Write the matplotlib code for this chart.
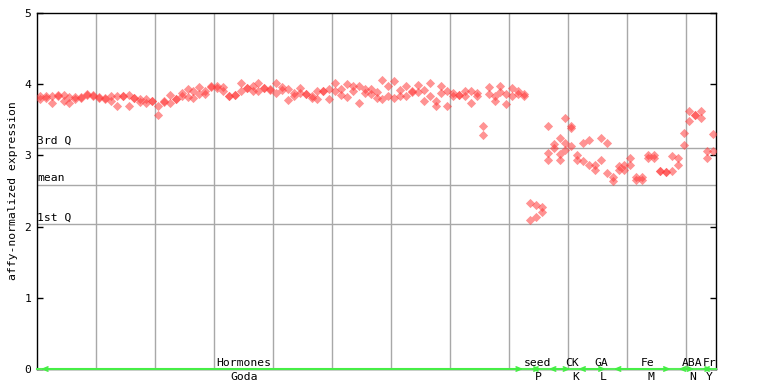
import matplotlib
matplotlib.use("Agg")
import matplotlib.pyplot as plt
import numpy as np

# ---------------- data ----------------
goda_vals = [
    [3.83, 3.79], [3.83, 3.80], [3.84, 3.74], [3.85, 3.84], [3.85, 3.76],
    [3.82, 3.74], [3.82, 3.79], [3.82, 3.81], [3.86, 3.85], [3.85, 3.84],
    [3.82, 3.81], [3.81, 3.79], [3.83, 3.77], [3.83, 3.70], [3.84, 3.83],
    [3.85, 3.69], [3.81, 3.81], [3.79, 3.75], [3.79, 3.74], [3.77, 3.77],
    [3.69, 3.57], [3.76, 3.75], [3.85, 3.74], [3.79, 3.79], [3.87, 3.84],
    [3.93, 3.82], [3.91, 3.81], [3.96, 3.86], [3.90, 3.86], [3.98, 3.96],
    [3.98, 3.94], [3.96, 3.91], [3.83, 3.83], [3.85, 3.85], [4.01, 3.91],
    [3.94, 3.94], [3.97, 3.91], [4.01, 3.91], [3.94, 3.94], [3.93, 3.92],
    [4.01, 3.88], [3.96, 3.92], [3.93, 3.78], [3.87, 3.83], [3.94, 3.87],
    [3.86, 3.86], [3.84, 3.80], [3.90, 3.79], [3.90, 3.90], [3.93, 3.79],
    [4.01, 3.90], [3.93, 3.85], [4.00, 3.82], [3.97, 3.90], [3.97, 3.74],
    [3.93, 3.87], [3.93, 3.86], [3.89, 3.80], [4.06, 3.79], [3.98, 3.84],
    [4.04, 3.80], [3.92, 3.83], [3.97, 3.84], [3.90, 3.89], [3.99, 3.89],
    [3.92, 3.77], [4.01, 3.83], [3.77, 3.70], [3.97, 3.87], [3.91, 3.69],
    [3.87, 3.84], [3.85, 3.85], [3.90, 3.83], [3.90, 3.74], [3.87, 3.84],
    [3.41, 3.28], [3.96, 3.86], [3.84, 3.77], [3.97, 3.89], [3.86, 3.72],
    [3.95, 3.84], [3.90, 3.86], [3.86, 3.83],
]
seed_vals = [[2.33, 2.09], [2.30, 2.13], [2.28, 2.21]]
ck_vals = [[3.41, 3.03, 2.94], [3.16, 3.11], [3.24, 3.02, 2.94],
           [3.52, 3.18, 3.08], [3.41, 3.38, 3.13]]
ga_vals = [[3.01, 2.94], [3.17, 2.92], [3.21, 2.87], [2.87, 2.80],
           [3.24, 2.93], [3.18, 2.75]]
fe_vals = [[2.69, 2.64], [2.85, 2.79], [2.86, 2.79], [2.97, 2.86],
           [2.69, 2.66], [2.69, 2.66], [3.00, 2.97], [3.01, 2.96],
           [2.78, 2.78], [2.76, 2.76], [2.99, 2.78]]
aba_vals = [[2.96, 2.87], [3.32, 3.14], [3.62, 3.48], [3.57, 3.57]]
fr_vals = [[3.62, 3.53], [3.06, 2.96], [3.30, 3.06]]

category_labels = ["Hormones", "seed", "CK", "GA", "Fe", "ABA", "Fr"]
set_labels = ["Goda", "P", "K", "L", "M", "N", "Y"]

q3_value = 3.10
mean_value = 2.58
q1_value = 2.03
# ---------------------------------------

groups = [goda_vals, seed_vals, ck_vals, ga_vals, fe_vals, aba_vals, fr_vals]
columns = [c for g in groups for c in g]
n_cols = len(columns)

xs, ys = [], []
for i, col in enumerate(columns):
    for v in col:
        xs.append(i + 0.5)
        ys.append(v)

MONO = "DejaVu Sans Mono"
FS = 8.2
GRID = "#a8a8a8"

fig = plt.figure(figsize=(7.68, 3.84), dpi=100)
ax = fig.add_axes([37 / 768, 15 / 384, (716 - 37) / 768, (369 - 13) / 384])
ax.set_xlim(0, n_cols)
ax.set_ylim(0, 5)

# vertical grid
for gx in range(10, n_cols, 10):
    ax.axvline(gx, color=GRID, lw=1.0, zorder=1)
# quantile lines
for val, lab in [(q3_value, "3rd Q"), (mean_value, "mean"), (q1_value, "1st Q")]:
    ax.axhline(val, color=GRID, lw=1.0, zorder=1)
    ax.text(0.05, val + 0.03, lab, family=MONO, fontsize=FS, va="bottom",
            ha="left", zorder=3)

ax.scatter(xs, ys, marker="D", s=22, color="#ff3a3a", alpha=0.55,
           linewidths=0, zorder=4)

# group spans (in column units) derived from group sizes
starts = np.cumsum([0] + [len(g) for g in groups[:-1]])
ends = starts + np.array([len(g) for g in groups])
ax.plot([0, n_cols], [0, 0], color="#55ee55", lw=1.5, zorder=5, clip_on=False)
for s, e in zip(starts, ends):
    ax.annotate("", xy=(s + 0.2, 0), xytext=(e - 0.2, 0),
                arrowprops=dict(arrowstyle="<->,head_length=0.35,head_width=0.15",
                                color="#44ee44", lw=1.2),
                annotation_clip=False, zorder=6)

cat_x = [35.0, 84.7, 90.7, 95.6, 103.4, 111.0, 114.0]
set_x = [35.0, 84.9, 91.2, 95.9, 104.0, 111.0, 113.8]
for x, lab in zip(cat_x, category_labels):
    ax.text(x, 0.09, lab, family=MONO, fontsize=FS, ha="center", va="center",
            zorder=6)
for x, lab in zip(set_x, set_labels):
    ax.text(x, -0.115, lab, family=MONO, fontsize=FS, ha="center", va="center",
            clip_on=False)

ax.set_xticks([])
ax.set_yticks(range(0, 6))
ax.tick_params(axis="y", direction="in", length=4.5, width=1.0, right=True,
               labelsize=FS, pad=4)
for lbl in ax.get_yticklabels():
    lbl.set_family(MONO)
for sp in ax.spines.values():
    sp.set_color("black")
    sp.set_linewidth(1.0)

fig.text(13 / 768, 1 - 191 / 384, "affy-normalized expression", rotation=90,
         family=MONO, fontsize=FS, ha="center", va="center")

fig.savefig("out.png", dpi=100)
